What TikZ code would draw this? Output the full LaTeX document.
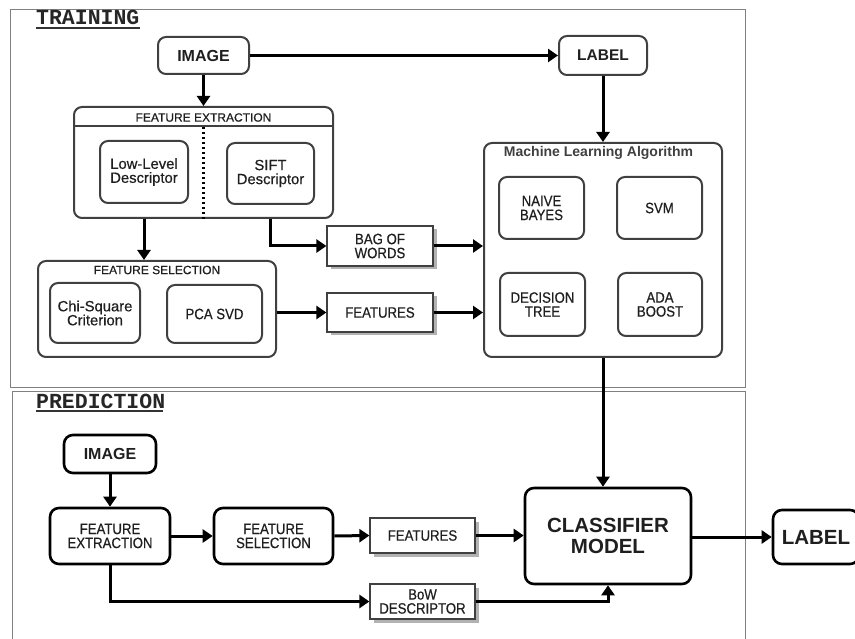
\documentclass[tikz,border=0pt]{standalone}
\usepackage{fontspec}
\setmainfont{Liberation Sans}
\newfontfamily\monofnt{Liberation Mono}
\newfontfamily\regfnt{Liberation Sans}[FakeBold=0.5]
\newfontfamily\cndfnt{Liberation Sans}[FakeStretch=0.88,FakeBold=0.5]
\usetikzlibrary{arrows.meta,shadows}
\begin{document}
\begin{tikzpicture}[x=1pt,y=-1pt,
  txt/.style={text=black!88, align=center, inner sep=0pt},
  rbox/.style={txt, draw=black!75, line width=2pt, rounded corners=8pt},
  pbox/.style={txt, draw=black, line width=2.6pt, rounded corners=9pt},
  sbox/.style={txt, draw=black!75, line width=1.2pt, fill=white,
     drop shadow={shadow xshift=3.5pt, shadow yshift=-3.5pt, fill=black!30, opacity=1}},
  frame/.style={draw=black!50, line width=0.9pt},
  arr/.style={line width=3pt, draw=black, -{Triangle[length=10pt,width=13pt]}},
  sz/.style={font=\fontsize{15}{14}\selectfont\cndfnt},
  lw/.style={font=\fontsize{14.8}{14}\selectfont\regfnt},
  big/.style={font=\fontsize{16}{17}\selectfont\bfseries},
  huge/.style={font=\fontsize{20.5}{21}\selectfont\bfseries},
  ttl/.style={font=\fontsize{21.5}{22}\selectfont\monofnt\bfseries, text=black!85, inner sep=0pt, anchor=base west}
]
\useasboundingbox (0,0) rectangle (855,639);
\clip (0,0) rectangle (855,639);
\fill[white] (0,0) rectangle (855,639);

% frames
\draw[frame] (10,9) rectangle (745,387);
\draw[frame] (12,391) rectangle (745,650);
\node[ttl] (ttrain) at (36,25) {TRAINING};
\draw[line width=1.2pt, black!80] (ttrain.base west) ++(0,3) -- ++(104,0);
\node[ttl] (tpred) at (36,408) {PREDICTION};
\draw[line width=1.2pt, black!80] (tpred.base west) ++(0,3) -- ++(127,0);

% ---------- training ----------
\node[rbox, big, minimum width=91pt, minimum height=37pt] (timg) at (203.5,55.5) {IMAGE};
\node[rbox, big, font=\fontsize{15.5}{17}\selectfont\bfseries, minimum width=88pt, minimum height=39pt] (tlab) at (603,55.5) {LABEL};

\node[rbox, minimum width=259pt, minimum height=111pt] (fe) at (203.5,162.5) {};
\node[txt, font=\fontsize{12}{12}\selectfont\regfnt] (fetitle) at (203.5,117.5) {FEATURE EXTRACTION};
\draw[draw=black!75, line width=2pt] ([yshift=-20pt]fe.north west) -- ([yshift=-20pt]fe.north east);
\draw[line width=2.8pt, dash pattern=on 2.5pt off 2.5pt] ([yshift=-21pt]fe.north) -- (fe.south);
\node[rbox, lw, minimum width=88pt, minimum height=62pt] (low) at (144,172) {Low-Level\\Descriptor};
\node[rbox, lw, minimum width=87pt, minimum height=61pt] (sift) at (270.5,173.5) {SIFT\\Descriptor};

\node[rbox, minimum width=238pt, minimum height=96pt] (fs) at (157,309) {};
\node[txt, font=\fontsize{12}{12}\selectfont\regfnt] (fstitle) at (157,270) {FEATURE SELECTION};
\node[rbox, lw, minimum width=90pt, minimum height=60pt] (chi) at (95,313) {Chi-Square\\Criterion};
\node[rbox, sz, minimum width=95pt, minimum height=58pt] (pca) at (214.5,314) {PCA SVD};

\node[sbox, sz, minimum width=106pt, minimum height=40pt] (bow) at (380,246) {BAG OF\\WORDS};
\node[sbox, sz, minimum width=106pt, minimum height=39pt] (tfeat) at (380,312.5) {FEATURES};

\node[rbox, minimum width=238pt, minimum height=214pt] (mla) at (603,250) {};
\node[txt, font=\fontsize{14}{14}\selectfont\bfseries, text=black!75] (mlatitle) at (598.5,152.5) {Machine Learning Algorithm};
\node[rbox, sz, minimum width=85pt, minimum height=62pt] (nb) at (541.5,208) {NAIVE\\BAYES};
\node[rbox, sz, minimum width=85pt, minimum height=62pt] (svm) at (659.5,208) {SVM};
\node[rbox, sz, minimum width=85pt, minimum height=63pt] (dt) at (542.5,304.5) {DECISION\\TREE};
\node[rbox, sz, minimum width=84pt, minimum height=63pt] (ada) at (660,304.5) {ADA\\BOOST};

% ---------- prediction ----------
\node[pbox, big, minimum width=92pt, minimum height=38pt] (pimg) at (110,454) {IMAGE};
\node[pbox, sz, minimum width=120pt, minimum height=56pt] (pfe) at (110,536) {FEATURE\\EXTRACTION};
\node[pbox, sz, minimum width=119pt, minimum height=56pt] (pfs) at (273.5,536) {FEATURE\\SELECTION};
\node[sbox, sz, minimum width=105pt, minimum height=35pt] (pfeat) at (422.5,535.5) {FEATURES};
\node[sbox, sz, minimum width=105pt, minimum height=35pt] (pbow) at (422.5,601.5) {BoW\\DESCRIPTOR};
\node[pbox, huge, minimum width=166pt, minimum height=96pt] (cm) at (608,536) {CLASSIFIER\\MODEL};
\node[pbox, huge, minimum width=86pt, minimum height=54pt] (plab) at (816,537) {LABEL};

% ---------- connectors ----------
\draw[arr] (timg.east) -- (tlab.west);
\draw[arr] (timg.south) -- (fe.north);
\draw[arr] (tlab.south) -- (mla.north);
\draw[arr] (low.center |- fe.south) -- (low.center |- fs.north);
\draw[arr] (sift.center |- fe.south) -- (sift.center |- bow.west) -- (bow.west);
\draw[arr] (bow.east) -- (mla.west |- bow.east);
\draw[arr] (fs.east |- tfeat.west) -- (tfeat.west);
\draw[arr] (tfeat.east) -- (mla.west |- tfeat.east);
\draw[arr] (mla.south) -- (mla.south |- cm.north);

\draw[arr] (pimg.south) -- (pfe.north);
\draw[arr] (pfe.east) -- (pfs.west);
\draw[arr] (pfs.east) -- (pfeat.west);
\draw[arr] (pfeat.east) -- (cm.west |- pfeat.east);
\draw[arr] (pfe.south) -- (pfe.south |- pbow.west) -- (pbow.west);
\draw[arr] (pbow.east) -- (cm.south |- pbow.east) -- (cm.south);
\draw[arr] (cm.east |- plab.west) -- (plab.west);
\end{tikzpicture}
\end{document}
